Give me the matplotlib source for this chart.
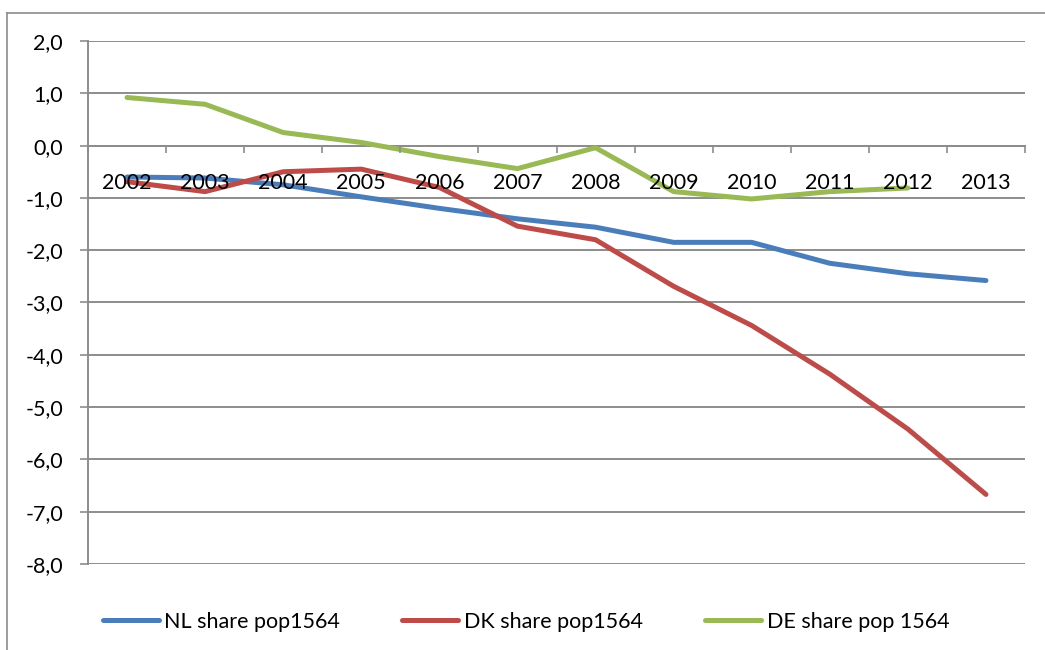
import numpy as np
import matplotlib
matplotlib.use("Agg")
import matplotlib.pyplot as plt
from matplotlib.lines import Line2D
from matplotlib.ticker import FixedLocator, FuncFormatter

# data
years = ["2002", "2003", "2004", "2005", "2006", "2007",
         "2008", "2009", "2010", "2011", "2012", "2013"]
nl_share = [-0.60, -0.62, -0.75, -0.98, -1.20, -1.40,
            -1.56, -1.85, -1.85, -2.25, -2.45, -2.58]
dk_share = [-0.69, -0.88, -0.50, -0.45, -0.80, -1.54,
            -1.80, -2.69, -3.44, -4.37, -5.42, -6.67]
de_share = [0.92, 0.79, 0.25, 0.06, -0.21, -0.44,
            -0.04, -0.88, -1.02, -0.88, -0.81, np.nan]
series_names = ["NL share pop1564", "DK share pop1564", "DE share pop 1564"]
series_colors = ["#4A7EBB", "#BE4B48", "#98B954"]

plt.rcParams['font.family'] = ['Lato', 'DejaVu Sans']
grid_col = "#8C8C8C"
fsize = 15.5

fig = plt.figure(figsize=(10.45, 6.5), dpi=100)
ax = fig.add_axes([88/1045, 1 - 564/650, (1025 - 88)/1045, (564 - 41)/650])

x = np.arange(len(years))
for vals, name, col in zip([nl_share, dk_share, de_share], series_names, series_colors):
    ax.plot(x, vals, color=col, lw=3.6, solid_capstyle='round',
            solid_joinstyle='round', label=name, zorder=3)

ax.set_xlim(-0.5, len(years) - 0.5)
ax.set_ylim(-8, 2)

# horizontal gridlines
ax.yaxis.set_major_locator(FixedLocator(np.arange(-8, 3, 1)))
ax.grid(axis='y', color=grid_col, lw=1.4)
ax.yaxis.set_major_formatter(FuncFormatter(lambda v, p: ("%.1f" % v).replace(".", ",")))
ax.tick_params(axis='y', length=6, width=1.2, color=grid_col, pad=12,
               labelsize=fsize)

# category axis crossing at zero, labels drawn over the lines
for s in ['top', 'right']:
    ax.spines[s].set_visible(False)
ax.spines['left'].set_color(grid_col)
ax.spines['left'].set_linewidth(1.4)
ax.spines['bottom'].set_position(('data', 0))
ax.spines['bottom'].set_color(grid_col)
ax.spines['bottom'].set_linewidth(1.4)
ax.xaxis.set_major_locator(FixedLocator(np.arange(-0.5, len(years), 1)))
ax.xaxis.set_major_formatter(FuncFormatter(lambda v, p: ""))
ax.xaxis.set_minor_locator(FixedLocator(x))
ax.set_xticklabels(years, minor=True)
ax.tick_params(axis='x', which='major', direction='out', length=5, width=1.2,
               color=grid_col)
ax.tick_params(axis='x', which='minor', length=0, pad=20, labelsize=fsize)
ax.xaxis.set_zorder(4)
ax.yaxis.set_zorder(1)

# outer chart frame
fig.add_artist(Line2D([7/1045, 7/1045], [0, 1 - 13/650], color="#8C8C8C", lw=1.2))
fig.add_artist(Line2D([7/1045, 1], [1 - 13/650, 1 - 13/650], color="#8C8C8C", lw=1.2))

fig.legend(loc='center', bbox_to_anchor=(526/1045, 1 - 622/650), ncol=3,
           frameon=False, fontsize=fsize, handlelength=2.6, handletextpad=0.25,
           columnspacing=2.9)

fig.savefig("out.png", dpi=100)
